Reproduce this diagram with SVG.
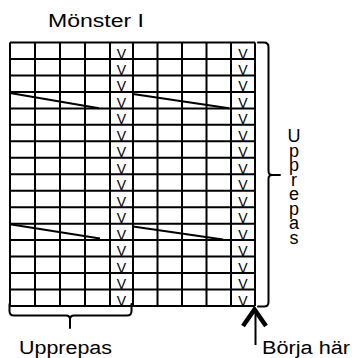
<svg xmlns="http://www.w3.org/2000/svg" width="352" height="358" viewBox="0 0 352 358">
<style>
.g{stroke:#000;stroke-width:2;fill:none}
.b{stroke:#000;stroke-width:2;fill:none;stroke-linecap:round;stroke-linejoin:round}
.v{font-family:"Liberation Sans",Arial,sans-serif;font-size:14px;fill:#000;text-anchor:middle}
.t{font-family:"Liberation Sans",Arial,sans-serif;font-size:18px;fill:#000}
.vt{writing-mode:vertical-rl;text-orientation:upright;letter-spacing:-5.5px}
</style>
<rect width="352" height="358" fill="#fff"/>
<g id="title"><text class="t" x="48" y="27" font-size="17" textLength="96" lengthAdjust="spacingAndGlyphs">Mönster I</text></g>
<g id="grid">
<path class="g" d="M10 42.5V306M35 42.5V306M60 42.5V306M85 42.5V306M110 42.5V306M133 42.5V306M157.5 42.5V306M182 42.5V306M206.5 42.5V306M231 42.5V306M255 42.5V306"/>
<path class="g" d="M10 42.5H255M10 59H255M10 75.4H255M10 91.9H255M10 108.4H255M10 124.8H255M10 141.3H255M10 157.8H255M10 174.3H255M10 190.7H255M10 207.2H255M10 223.7H255M10 240.1H255M10 256.6H255M10 273.1H255M10 289.5H255M10 306H255"/>
</g>
<g id="marks">
<text class="v" x="121.5" y="58.5">V</text><text class="v" x="243" y="58.5">V</text>
<text class="v" x="121.5" y="75">V</text><text class="v" x="243" y="75">V</text>
<text class="v" x="121.5" y="91.4">V</text><text class="v" x="243" y="91.4">V</text>
<text class="v" x="121.5" y="107.9">V</text><text class="v" x="243" y="107.9">V</text>
<text class="v" x="121.5" y="124.3">V</text><text class="v" x="243" y="124.3">V</text>
<text class="v" x="121.5" y="140.8">V</text><text class="v" x="243" y="140.8">V</text>
<text class="v" x="121.5" y="157.3">V</text><text class="v" x="243" y="157.3">V</text>
<text class="v" x="121.5" y="173.8">V</text><text class="v" x="243" y="173.8">V</text>
<text class="v" x="121.5" y="190.2">V</text><text class="v" x="243" y="190.2">V</text>
<text class="v" x="121.5" y="206.7">V</text><text class="v" x="243" y="206.7">V</text>
<text class="v" x="121.5" y="223.2">V</text><text class="v" x="243" y="223.2">V</text>
<text class="v" x="121.5" y="239.6">V</text><text class="v" x="243" y="239.6">V</text>
<text class="v" x="121.5" y="256.1">V</text><text class="v" x="243" y="256.1">V</text>
<text class="v" x="121.5" y="272.6">V</text><text class="v" x="243" y="272.6">V</text>
<text class="v" x="121.5" y="289">V</text><text class="v" x="243" y="289">V</text>
<text class="v" x="121.5" y="305.5">V</text><text class="v" x="243" y="305.5">V</text>
</g>
<g id="connectors">
<path class="g" d="M10 93L99 108.3M133 94L229 108.3M10 224.3L100 238.5M133 226.5L223 239.5"/>
<path id="bracket-right" class="b" d="M258 42.5H264Q268.5 42.5 268.5 47V171Q268.5 175 272 175H280M272 175Q268.5 175 268.5 179V302Q268.5 306.5 264 306.5H258"/>
<path id="bracket-bottom" class="b" d="M9.5 304V311Q9.5 315.5 14 315.5H66Q70 315.5 70 319.5V328M70 319.5Q70 315.5 74 315.5H127Q131.5 315.5 131.5 311V304"/>
<g id="arrow">
<path d="M243 326L254.5 309.5L266 326" stroke="#000" stroke-width="4.5" fill="none" stroke-linejoin="miter"/>
<path d="M255.5 311V345" stroke="#000" stroke-width="2" fill="none"/>
</g>
</g>
<g id="labels">
<text class="t" x="19" y="353.5" textLength="93" lengthAdjust="spacingAndGlyphs">Upprepas</text>
<text class="t" x="262" y="354" textLength="88" lengthAdjust="spacingAndGlyphs">Börja här</text>
<text class="t vt" x="294" y="126">Upprepas</text>
</g>
</svg>
